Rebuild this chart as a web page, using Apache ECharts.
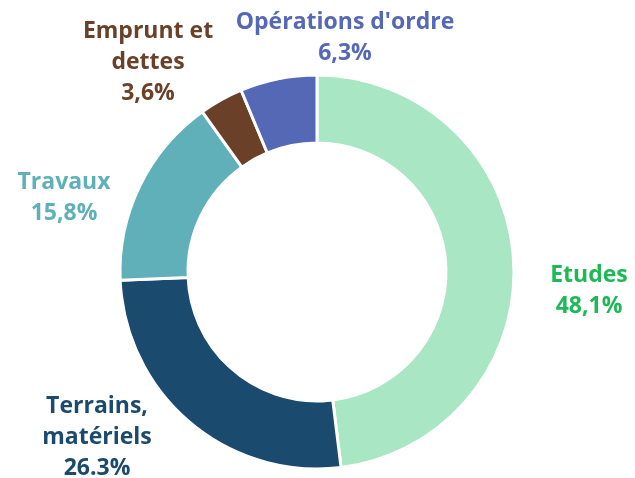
<!DOCTYPE html>
<html>
<head>
<meta charset="utf-8">
<script src="https://cdn.jsdelivr.net/npm/echarts@6/dist/echarts.min.js"></script>
<style>
  html, body { margin: 0; padding: 0; background: #fff; }
  #con { width: 635px; height: 478px; }
</style>
</head>
<body>
<div id="con"></div>
<script>
// postes de dépense (ordre horaire depuis midi)
var categories = ['Etudes', 'Terrains, matériels', 'Travaux', 'Emprunt et dettes', "Opérations d'ordre"];
var values = [48.1, 26.3, 15.8, 3.6, 6.3];
var labels = ['Etudes\n48,1%', 'Terrains,\nmatériels\n26.3%', 'Travaux\n15,8%', 'Emprunt et\ndettes\n3,6%', "Opérations d'ordre\n6,3%"];
var colors = ['#a8e6c4', '#1a4a6e', '#5fb0b9', '#6a4028', '#5468b6'];
var labelColors = ['#1db956', '#1a4a6e', '#5fb0b9', '#6a4028', '#5468b6'];
// centre des étiquettes
var labelPos = [[589, 291], [97, 437], [64, 198], [148, 62], [345, 38]];

var myChart = echarts.init(document.getElementById('con'));

var data = [];
for (var i = 0; i < categories.length; i++) {
    data.push({
        name: categories[i],
        value: values[i],
        itemStyle: { color: colors[i] },
        label: { formatter: labels[i], color: labelColors[i] }
    });
}

var option = {
    animation: false,
    series: [
        {
            type: 'pie',
            center: [317, 272],
            radius: [129, 197],
            startAngle: 90,
            clockwise: true,
            itemStyle: { borderColor: '#fff', borderWidth: 3 },
            label: {
                show: true,
                position: 'outside',
                alignTo: 'none',
                overflow: 'none',
                fontFamily: 'Open Sans',
                fontWeight: 'bold',
                fontSize: 23,
                lineHeight: 31,
                align: 'center'
            },
            labelLine: { show: false },
            labelLayout: function (params) {
                var p = labelPos[params.dataIndex];
                return { x: p[0], y: p[1], align: 'center', verticalAlign: 'middle' };
            },
            data: data
        }
    ]
};
myChart.setOption(option);
</script>
</body>
</html>
